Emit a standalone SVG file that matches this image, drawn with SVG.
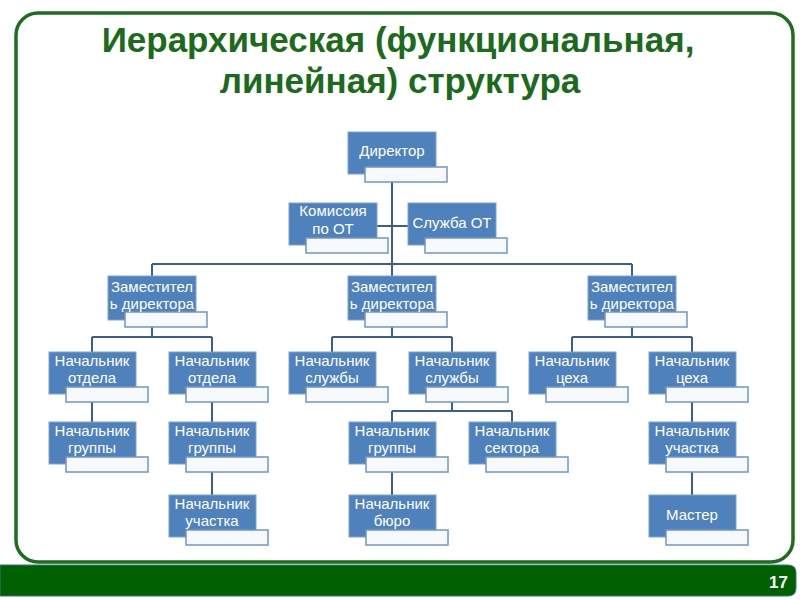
<svg xmlns="http://www.w3.org/2000/svg" width="800" height="600" viewBox="0 0 800 600">
<style>
.title{font-family:"Liberation Sans",Arial,sans-serif;font-weight:bold;font-size:35px;fill:#1C6A1C;text-anchor:middle}
.b{fill:#4F81BD;stroke:#7FA3D0;stroke-width:1}
.w{fill:#F7F9FC;stroke:#6E97CB;stroke-width:1.5}
.t{font-family:"Liberation Sans",Arial,sans-serif;font-size:15px;fill:#FFFFFF;text-anchor:middle}
.c path{fill:none;stroke:#3A5F8C;stroke-width:2}
</style>
<rect width="800" height="600" fill="#FFFFFF"/>
<rect x="16" y="13" width="777" height="549" rx="22" fill="#FFFFFF" stroke="#1E6E1E" stroke-width="3.5"/>
<path d="M0,565 H788 Q796,565 796,573 V588 Q796,596 788,596 H0 Z" fill="#006000" stroke="#3D6E8F" stroke-width="1"/>
<text x="788" y="588" font-family="'Liberation Sans',Arial,sans-serif" font-weight="bold" font-size="17" fill="#FFFFFF" text-anchor="end">17</text>
<text class="title" x="398" y="52">Иерархическая (функциональная,</text>
<text class="title" x="400" y="93">линейная) структура</text>

<g class="c" id="connectors">
<path d="M392,182 V276"/>
<path d="M152,264 H632"/>
<path d="M152,264 V276"/>
<path d="M632,264 V276"/>
<path d="M377,226 H408"/>
<path d="M152,327 V337 M92,337 H212 M92,337 V352 M212,337 V352"/>
<path d="M392,327 V337 M332,337 H452 M332,337 V352 M452,337 V352"/>
<path d="M632,327 V337 M572,337 H692 M572,337 V352 M692,337 V352"/>
<path d="M92,400 V422 M212,400 V422 M692,400 V422"/>
<path d="M452,400 V411 M392,411 H512 M392,411 V422 M512,411 V422"/>
<path d="M212,472 V495 M392,472 V495 M692,472 V495"/>
</g>

<g id="director"><rect class="b" x="348" y="132" width="88" height="42"/><rect class="w" x="365" y="167" width="82" height="15"/><text class="t" x="392" y="156">Директор</text></g>
<g id="commission"><rect class="b" x="289" y="203" width="88" height="42"/><rect class="w" x="306" y="238" width="82" height="15"/><text class="t" x="333" y="216">Комиссия</text><text class="t" x="333" y="234">по ОТ</text></g>
<g id="service-ot"><rect class="b" x="408" y="203" width="88" height="42"/><rect class="w" x="425" y="238" width="82" height="15"/><text class="t" x="452" y="228">Служба ОТ</text></g>

<g id="deputy1"><rect class="b" x="108" y="276" width="88" height="44"/><rect class="w" x="125" y="312" width="82" height="15"/><text class="t" x="152" y="292">Заместител</text><text class="t" x="152" y="309">ь директора</text></g>
<g id="deputy2"><rect class="b" x="348" y="276" width="88" height="44"/><rect class="w" x="365" y="312" width="82" height="15"/><text class="t" x="392" y="292">Заместител</text><text class="t" x="392" y="309">ь директора</text></g>
<g id="deputy3"><rect class="b" x="588" y="276" width="88" height="44"/><rect class="w" x="605" y="312" width="82" height="15"/><text class="t" x="632" y="292">Заместител</text><text class="t" x="632" y="309">ь директора</text></g>

<g id="dept1"><rect class="b" x="49" y="352" width="87" height="42"/><rect class="w" x="66" y="387" width="82" height="15"/><text class="t" x="92" y="366">Начальник</text><text class="t" x="92" y="383">отдела</text></g>
<g id="dept2"><rect class="b" x="169" y="352" width="87" height="42"/><rect class="w" x="186" y="387" width="82" height="15"/><text class="t" x="212" y="366">Начальник</text><text class="t" x="212" y="383">отдела</text></g>
<g id="service1"><rect class="b" x="289" y="352" width="87" height="42"/><rect class="w" x="306" y="387" width="82" height="15"/><text class="t" x="332" y="366">Начальник</text><text class="t" x="332" y="383">службы</text></g>
<g id="service2"><rect class="b" x="409" y="352" width="87" height="42"/><rect class="w" x="426" y="387" width="82" height="15"/><text class="t" x="452" y="366">Начальник</text><text class="t" x="452" y="383">службы</text></g>
<g id="shop1"><rect class="b" x="529" y="352" width="87" height="42"/><rect class="w" x="546" y="387" width="82" height="15"/><text class="t" x="572" y="366">Начальник</text><text class="t" x="572" y="383">цеха</text></g>
<g id="shop2"><rect class="b" x="649" y="352" width="87" height="42"/><rect class="w" x="666" y="387" width="82" height="15"/><text class="t" x="692" y="366">Начальник</text><text class="t" x="692" y="383">цеха</text></g>

<g id="group1"><rect class="b" x="49" y="422" width="87" height="42"/><rect class="w" x="66" y="457" width="82" height="15"/><text class="t" x="92" y="436">Начальник</text><text class="t" x="92" y="453">группы</text></g>
<g id="group2"><rect class="b" x="169" y="422" width="87" height="42"/><rect class="w" x="186" y="457" width="82" height="15"/><text class="t" x="212" y="436">Начальник</text><text class="t" x="212" y="453">группы</text></g>
<g id="group3"><rect class="b" x="349" y="422" width="87" height="42"/><rect class="w" x="366" y="457" width="82" height="15"/><text class="t" x="392" y="436">Начальник</text><text class="t" x="392" y="453">группы</text></g>
<g id="sector"><rect class="b" x="469" y="422" width="87" height="42"/><rect class="w" x="486" y="457" width="82" height="15"/><text class="t" x="512" y="436">Начальник</text><text class="t" x="512" y="453">сектора</text></g>
<g id="section1"><rect class="b" x="649" y="422" width="87" height="42"/><rect class="w" x="666" y="457" width="82" height="15"/><text class="t" x="692" y="436">Начальник</text><text class="t" x="692" y="453">участка</text></g>

<g id="section2"><rect class="b" x="169" y="495" width="87" height="42"/><rect class="w" x="186" y="530" width="82" height="15"/><text class="t" x="212" y="509">Начальник</text><text class="t" x="212" y="526">участка</text></g>
<g id="bureau"><rect class="b" x="349" y="495" width="87" height="42"/><rect class="w" x="366" y="530" width="82" height="15"/><text class="t" x="392" y="509">Начальник</text><text class="t" x="392" y="526">бюро</text></g>
<g id="master"><rect class="b" x="649" y="495" width="87" height="42"/><rect class="w" x="666" y="530" width="82" height="15"/><text class="t" x="692" y="520">Мастер</text></g>
</svg>
